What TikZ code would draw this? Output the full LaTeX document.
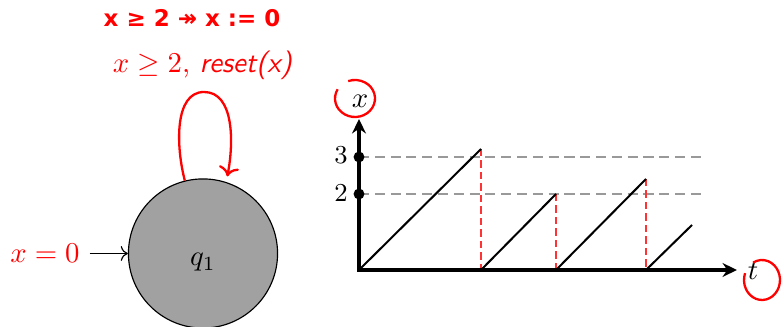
\documentclass[tikz,border=0pt]{standalone}
\usepackage{fontspec}
\newfontfamily\scribble{DejaVu Sans}
\usetikzlibrary{arrows.meta}
\begin{document}
\begin{tikzpicture}[x=0.348pt,y=0.348pt,
  statebox/.style={circle,draw=black,fill=black!37,minimum size=51.9pt,inner sep=0pt,line width=0.4pt},
  redlbl/.style={text=red},
  loopline/.style={draw=red,line width=0.8pt,->,shorten >=2pt},
  initline/.style={draw=black,line width=0.4pt,->},
  axisline/.style={line width=1.2pt,{Stealth[length=5pt,width=4.8pt,inset=1.6pt]}-{Stealth[length=5pt,width=4.8pt,inset=1.6pt]}},
  ramp/.style={line width=0.7pt},
  guide/.style={draw=black!40,line width=0.5pt,dash pattern=on 3.5pt off 2pt},
  resetline/.style={draw=red!80,line width=0.4pt,dash pattern=on 2.5pt off 1.5pt},
  hand/.style={draw=red,line width=0.8pt},
  tickdot/.style={circle,fill=black,inner sep=0pt,minimum size=3.8pt},
  scribbletext/.style={text=red,font=\scribble\bfseries\fontsize{8}{9}\selectfont}
]
\useasboundingbox (0,0) rectangle (784,327);

% automaton
\node[statebox] (q1) at (203,73.5) {};
\node (q1lbl) at (203,64.5) {$q_1$};
\node[redlbl] (x0) at (45,73.5) {$x=0$};
\draw[initline] (x0.east) -- (q1.west);
\draw[loopline] (q1.104) .. controls (176,180) and (174,235) .. (204,235)
  .. controls (234,235) and (234,185) .. (q1.72);
\node[redlbl] (guard) at (203,262) {$x \geq 2$, \textsf{\textit{reset(x)}}};
\node[scribbletext] (hw) at (192,309) {x ≥ 2 ↠ x := 0};

% graph
\coordinate (O) at (359,57);
\coordinate (T) at (737,57);
\coordinate (Y) at (359,208);
\coordinate (g3) at (359,170);
\coordinate (g3e) at (703,170);
\coordinate (g2) at (359,133);
\coordinate (g2e) at (703,133);
\draw[guide] (g3) -- (g3e);
\draw[guide] (g2) -- (g2e);

\coordinate (a0) at (359,57);
\coordinate (a1) at (481,178);
\coordinate (b0) at (481,57);
\coordinate (b1) at (556,133);
\coordinate (c0) at (556,57);
\coordinate (c1) at (646,148);
\coordinate (d0) at (646,57);
\coordinate (d1) at (692,102);
\draw[resetline] (a1) -- (b0);
\draw[resetline] (b1) -- (c0);
\draw[resetline] (c1) -- (d0);
\draw[ramp] (a0) -- (a1);
\draw[ramp] (b0) -- (b1);
\draw[ramp] (c0) -- (c1);
\draw[ramp] (d0) -- (d1);

\draw[axisline] (T) -- (O) -- (Y);
\node[tickdot] (dot3) at (g3) {};
\node[tickdot] (dot2) at (g2) {};
\node (l3) at (341,172) {\small $3$};
\node (l2) at (341,134) {\small $2$};
\node (xl) at (360,226) {$x$};
\node (tl) at (753,56) {$t$};

% hand-drawn marks
\draw[hand] (355,228.5) ++(150:6.96pt and 6.44pt) arc[start angle=150,end angle=470,x radius=6.96pt,y radius=6.44pt];
\draw[hand] (762,47) ++(160:6.26pt and 6.96pt) arc[start angle=160,end angle=480,x radius=6.26pt,y radius=6.96pt];
\end{tikzpicture}
\end{document}
